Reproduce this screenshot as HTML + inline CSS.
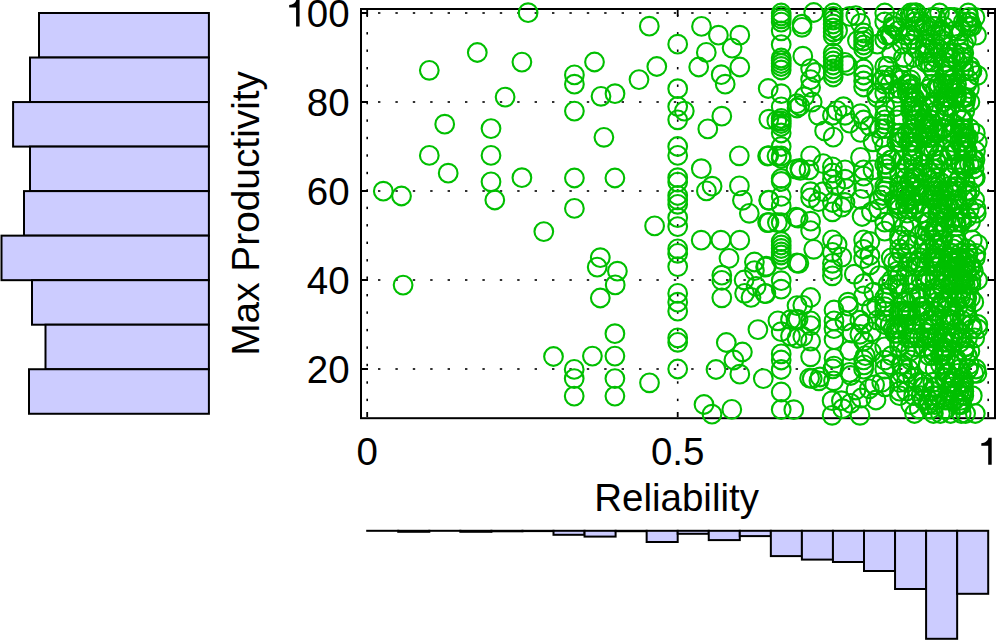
<!DOCTYPE html><html><head><meta charset="utf-8"><style>html,body{margin:0;padding:0;background:#fff;width:996px;height:641px;overflow:hidden}svg{display:block}text{font-family:"Liberation Sans",sans-serif;fill:#000}</style></head><body><svg width="996" height="641" viewBox="0 0 996 641"><rect x="39" y="13.00" width="169.90" height="44.53" fill="#ccccff" stroke="#000" stroke-width="2"/><rect x="30" y="57.53" width="178.90" height="44.53" fill="#ccccff" stroke="#000" stroke-width="2"/><rect x="13.1" y="102.06" width="195.80" height="44.53" fill="#ccccff" stroke="#000" stroke-width="2"/><rect x="30" y="146.59" width="178.90" height="44.53" fill="#ccccff" stroke="#000" stroke-width="2"/><rect x="24" y="191.12" width="184.90" height="44.53" fill="#ccccff" stroke="#000" stroke-width="2"/><rect x="1.5" y="235.65" width="207.40" height="44.53" fill="#ccccff" stroke="#000" stroke-width="2"/><rect x="32" y="280.18" width="176.90" height="44.53" fill="#ccccff" stroke="#000" stroke-width="2"/><rect x="45.5" y="324.71" width="163.40" height="44.53" fill="#ccccff" stroke="#000" stroke-width="2"/><rect x="29" y="369.24" width="179.90" height="44.53" fill="#ccccff" stroke="#000" stroke-width="2"/><rect x="367.20" y="530.8" width="31.05" height="0.01" fill="#ccccff" stroke="#000" stroke-width="2"/><rect x="398.25" y="530.8" width="31.05" height="1.00" fill="#ccccff" stroke="#000" stroke-width="2"/><rect x="429.30" y="530.8" width="31.05" height="0.01" fill="#ccccff" stroke="#000" stroke-width="2"/><rect x="460.35" y="530.8" width="31.05" height="1.00" fill="#ccccff" stroke="#000" stroke-width="2"/><rect x="491.40" y="530.8" width="31.05" height="0.50" fill="#ccccff" stroke="#000" stroke-width="2"/><rect x="522.45" y="530.8" width="31.05" height="0.30" fill="#ccccff" stroke="#000" stroke-width="2"/><rect x="553.50" y="530.8" width="31.05" height="4.00" fill="#ccccff" stroke="#000" stroke-width="2"/><rect x="584.55" y="530.8" width="31.05" height="5.80" fill="#ccccff" stroke="#000" stroke-width="2"/><rect x="615.60" y="530.8" width="31.05" height="0.40" fill="#ccccff" stroke="#000" stroke-width="2"/><rect x="646.65" y="530.8" width="31.05" height="11.20" fill="#ccccff" stroke="#000" stroke-width="2"/><rect x="677.70" y="530.8" width="31.05" height="3.00" fill="#ccccff" stroke="#000" stroke-width="2"/><rect x="708.75" y="530.8" width="31.05" height="9.30" fill="#ccccff" stroke="#000" stroke-width="2"/><rect x="739.80" y="530.8" width="31.05" height="5.30" fill="#ccccff" stroke="#000" stroke-width="2"/><rect x="770.85" y="530.8" width="31.05" height="25.30" fill="#ccccff" stroke="#000" stroke-width="2"/><rect x="801.90" y="530.8" width="31.05" height="28.80" fill="#ccccff" stroke="#000" stroke-width="2"/><rect x="832.95" y="530.8" width="31.05" height="31.20" fill="#ccccff" stroke="#000" stroke-width="2"/><rect x="864.00" y="530.8" width="31.05" height="40.20" fill="#ccccff" stroke="#000" stroke-width="2"/><rect x="895.05" y="530.8" width="31.05" height="58.20" fill="#ccccff" stroke="#000" stroke-width="2"/><rect x="926.10" y="530.8" width="31.05" height="108.00" fill="#ccccff" stroke="#000" stroke-width="2"/><rect x="957.15" y="530.8" width="31.05" height="63.00" fill="#ccccff" stroke="#000" stroke-width="2"/><g fill="#000"><rect x="378.0" y="12.2" width="2.4" height="1.6"/><rect x="395.4" y="12.2" width="2.4" height="1.6"/><rect x="412.8" y="12.2" width="2.4" height="1.6"/><rect x="430.2" y="12.2" width="2.4" height="1.6"/><rect x="447.6" y="12.2" width="2.4" height="1.6"/><rect x="465.0" y="12.2" width="2.4" height="1.6"/><rect x="482.4" y="12.2" width="2.4" height="1.6"/><rect x="499.8" y="12.2" width="2.4" height="1.6"/><rect x="517.2" y="12.2" width="2.4" height="1.6"/><rect x="534.6" y="12.2" width="2.4" height="1.6"/><rect x="552.0" y="12.2" width="2.4" height="1.6"/><rect x="569.4" y="12.2" width="2.4" height="1.6"/><rect x="586.8" y="12.2" width="2.4" height="1.6"/><rect x="604.2" y="12.2" width="2.4" height="1.6"/><rect x="621.6" y="12.2" width="2.4" height="1.6"/><rect x="639.0" y="12.2" width="2.4" height="1.6"/><rect x="656.4" y="12.2" width="2.4" height="1.6"/><rect x="673.8" y="12.2" width="2.4" height="1.6"/><rect x="691.2" y="12.2" width="2.4" height="1.6"/><rect x="708.6" y="12.2" width="2.4" height="1.6"/><rect x="726.0" y="12.2" width="2.4" height="1.6"/><rect x="743.4" y="12.2" width="2.4" height="1.6"/><rect x="760.8" y="12.2" width="2.4" height="1.6"/><rect x="778.2" y="12.2" width="2.4" height="1.6"/><rect x="795.6" y="12.2" width="2.4" height="1.6"/><rect x="813.0" y="12.2" width="2.4" height="1.6"/><rect x="830.4" y="12.2" width="2.4" height="1.6"/><rect x="847.8" y="12.2" width="2.4" height="1.6"/><rect x="865.2" y="12.2" width="2.4" height="1.6"/><rect x="882.6" y="12.2" width="2.4" height="1.6"/><rect x="900.0" y="12.2" width="2.4" height="1.6"/><rect x="917.4" y="12.2" width="2.4" height="1.6"/><rect x="934.8" y="12.2" width="2.4" height="1.6"/><rect x="952.2" y="12.2" width="2.4" height="1.6"/><rect x="969.6" y="12.2" width="2.4" height="1.6"/><rect x="987.0" y="12.2" width="2.4" height="1.6"/><rect x="378.0" y="101.2" width="2.4" height="1.6"/><rect x="395.4" y="101.2" width="2.4" height="1.6"/><rect x="412.8" y="101.2" width="2.4" height="1.6"/><rect x="430.2" y="101.2" width="2.4" height="1.6"/><rect x="447.6" y="101.2" width="2.4" height="1.6"/><rect x="465.0" y="101.2" width="2.4" height="1.6"/><rect x="482.4" y="101.2" width="2.4" height="1.6"/><rect x="499.8" y="101.2" width="2.4" height="1.6"/><rect x="517.2" y="101.2" width="2.4" height="1.6"/><rect x="534.6" y="101.2" width="2.4" height="1.6"/><rect x="552.0" y="101.2" width="2.4" height="1.6"/><rect x="569.4" y="101.2" width="2.4" height="1.6"/><rect x="586.8" y="101.2" width="2.4" height="1.6"/><rect x="604.2" y="101.2" width="2.4" height="1.6"/><rect x="621.6" y="101.2" width="2.4" height="1.6"/><rect x="639.0" y="101.2" width="2.4" height="1.6"/><rect x="656.4" y="101.2" width="2.4" height="1.6"/><rect x="673.8" y="101.2" width="2.4" height="1.6"/><rect x="691.2" y="101.2" width="2.4" height="1.6"/><rect x="708.6" y="101.2" width="2.4" height="1.6"/><rect x="726.0" y="101.2" width="2.4" height="1.6"/><rect x="743.4" y="101.2" width="2.4" height="1.6"/><rect x="760.8" y="101.2" width="2.4" height="1.6"/><rect x="778.2" y="101.2" width="2.4" height="1.6"/><rect x="795.6" y="101.2" width="2.4" height="1.6"/><rect x="813.0" y="101.2" width="2.4" height="1.6"/><rect x="830.4" y="101.2" width="2.4" height="1.6"/><rect x="847.8" y="101.2" width="2.4" height="1.6"/><rect x="865.2" y="101.2" width="2.4" height="1.6"/><rect x="882.6" y="101.2" width="2.4" height="1.6"/><rect x="900.0" y="101.2" width="2.4" height="1.6"/><rect x="917.4" y="101.2" width="2.4" height="1.6"/><rect x="934.8" y="101.2" width="2.4" height="1.6"/><rect x="952.2" y="101.2" width="2.4" height="1.6"/><rect x="969.6" y="101.2" width="2.4" height="1.6"/><rect x="987.0" y="101.2" width="2.4" height="1.6"/><rect x="378.0" y="190.2" width="2.4" height="1.6"/><rect x="395.4" y="190.2" width="2.4" height="1.6"/><rect x="412.8" y="190.2" width="2.4" height="1.6"/><rect x="430.2" y="190.2" width="2.4" height="1.6"/><rect x="447.6" y="190.2" width="2.4" height="1.6"/><rect x="465.0" y="190.2" width="2.4" height="1.6"/><rect x="482.4" y="190.2" width="2.4" height="1.6"/><rect x="499.8" y="190.2" width="2.4" height="1.6"/><rect x="517.2" y="190.2" width="2.4" height="1.6"/><rect x="534.6" y="190.2" width="2.4" height="1.6"/><rect x="552.0" y="190.2" width="2.4" height="1.6"/><rect x="569.4" y="190.2" width="2.4" height="1.6"/><rect x="586.8" y="190.2" width="2.4" height="1.6"/><rect x="604.2" y="190.2" width="2.4" height="1.6"/><rect x="621.6" y="190.2" width="2.4" height="1.6"/><rect x="639.0" y="190.2" width="2.4" height="1.6"/><rect x="656.4" y="190.2" width="2.4" height="1.6"/><rect x="673.8" y="190.2" width="2.4" height="1.6"/><rect x="691.2" y="190.2" width="2.4" height="1.6"/><rect x="708.6" y="190.2" width="2.4" height="1.6"/><rect x="726.0" y="190.2" width="2.4" height="1.6"/><rect x="743.4" y="190.2" width="2.4" height="1.6"/><rect x="760.8" y="190.2" width="2.4" height="1.6"/><rect x="778.2" y="190.2" width="2.4" height="1.6"/><rect x="795.6" y="190.2" width="2.4" height="1.6"/><rect x="813.0" y="190.2" width="2.4" height="1.6"/><rect x="830.4" y="190.2" width="2.4" height="1.6"/><rect x="847.8" y="190.2" width="2.4" height="1.6"/><rect x="865.2" y="190.2" width="2.4" height="1.6"/><rect x="882.6" y="190.2" width="2.4" height="1.6"/><rect x="900.0" y="190.2" width="2.4" height="1.6"/><rect x="917.4" y="190.2" width="2.4" height="1.6"/><rect x="934.8" y="190.2" width="2.4" height="1.6"/><rect x="952.2" y="190.2" width="2.4" height="1.6"/><rect x="969.6" y="190.2" width="2.4" height="1.6"/><rect x="987.0" y="190.2" width="2.4" height="1.6"/><rect x="378.0" y="279.2" width="2.4" height="1.6"/><rect x="395.4" y="279.2" width="2.4" height="1.6"/><rect x="412.8" y="279.2" width="2.4" height="1.6"/><rect x="430.2" y="279.2" width="2.4" height="1.6"/><rect x="447.6" y="279.2" width="2.4" height="1.6"/><rect x="465.0" y="279.2" width="2.4" height="1.6"/><rect x="482.4" y="279.2" width="2.4" height="1.6"/><rect x="499.8" y="279.2" width="2.4" height="1.6"/><rect x="517.2" y="279.2" width="2.4" height="1.6"/><rect x="534.6" y="279.2" width="2.4" height="1.6"/><rect x="552.0" y="279.2" width="2.4" height="1.6"/><rect x="569.4" y="279.2" width="2.4" height="1.6"/><rect x="586.8" y="279.2" width="2.4" height="1.6"/><rect x="604.2" y="279.2" width="2.4" height="1.6"/><rect x="621.6" y="279.2" width="2.4" height="1.6"/><rect x="639.0" y="279.2" width="2.4" height="1.6"/><rect x="656.4" y="279.2" width="2.4" height="1.6"/><rect x="673.8" y="279.2" width="2.4" height="1.6"/><rect x="691.2" y="279.2" width="2.4" height="1.6"/><rect x="708.6" y="279.2" width="2.4" height="1.6"/><rect x="726.0" y="279.2" width="2.4" height="1.6"/><rect x="743.4" y="279.2" width="2.4" height="1.6"/><rect x="760.8" y="279.2" width="2.4" height="1.6"/><rect x="778.2" y="279.2" width="2.4" height="1.6"/><rect x="795.6" y="279.2" width="2.4" height="1.6"/><rect x="813.0" y="279.2" width="2.4" height="1.6"/><rect x="830.4" y="279.2" width="2.4" height="1.6"/><rect x="847.8" y="279.2" width="2.4" height="1.6"/><rect x="865.2" y="279.2" width="2.4" height="1.6"/><rect x="882.6" y="279.2" width="2.4" height="1.6"/><rect x="900.0" y="279.2" width="2.4" height="1.6"/><rect x="917.4" y="279.2" width="2.4" height="1.6"/><rect x="934.8" y="279.2" width="2.4" height="1.6"/><rect x="952.2" y="279.2" width="2.4" height="1.6"/><rect x="969.6" y="279.2" width="2.4" height="1.6"/><rect x="987.0" y="279.2" width="2.4" height="1.6"/><rect x="378.0" y="368.2" width="2.4" height="1.6"/><rect x="395.4" y="368.2" width="2.4" height="1.6"/><rect x="412.8" y="368.2" width="2.4" height="1.6"/><rect x="430.2" y="368.2" width="2.4" height="1.6"/><rect x="447.6" y="368.2" width="2.4" height="1.6"/><rect x="465.0" y="368.2" width="2.4" height="1.6"/><rect x="482.4" y="368.2" width="2.4" height="1.6"/><rect x="499.8" y="368.2" width="2.4" height="1.6"/><rect x="517.2" y="368.2" width="2.4" height="1.6"/><rect x="534.6" y="368.2" width="2.4" height="1.6"/><rect x="552.0" y="368.2" width="2.4" height="1.6"/><rect x="569.4" y="368.2" width="2.4" height="1.6"/><rect x="586.8" y="368.2" width="2.4" height="1.6"/><rect x="604.2" y="368.2" width="2.4" height="1.6"/><rect x="621.6" y="368.2" width="2.4" height="1.6"/><rect x="639.0" y="368.2" width="2.4" height="1.6"/><rect x="656.4" y="368.2" width="2.4" height="1.6"/><rect x="673.8" y="368.2" width="2.4" height="1.6"/><rect x="691.2" y="368.2" width="2.4" height="1.6"/><rect x="708.6" y="368.2" width="2.4" height="1.6"/><rect x="726.0" y="368.2" width="2.4" height="1.6"/><rect x="743.4" y="368.2" width="2.4" height="1.6"/><rect x="760.8" y="368.2" width="2.4" height="1.6"/><rect x="778.2" y="368.2" width="2.4" height="1.6"/><rect x="795.6" y="368.2" width="2.4" height="1.6"/><rect x="813.0" y="368.2" width="2.4" height="1.6"/><rect x="830.4" y="368.2" width="2.4" height="1.6"/><rect x="847.8" y="368.2" width="2.4" height="1.6"/><rect x="865.2" y="368.2" width="2.4" height="1.6"/><rect x="882.6" y="368.2" width="2.4" height="1.6"/><rect x="900.0" y="368.2" width="2.4" height="1.6"/><rect x="917.4" y="368.2" width="2.4" height="1.6"/><rect x="934.8" y="368.2" width="2.4" height="1.6"/><rect x="952.2" y="368.2" width="2.4" height="1.6"/><rect x="969.6" y="368.2" width="2.4" height="1.6"/><rect x="987.0" y="368.2" width="2.4" height="1.6"/><rect x="366.4" y="398.7" width="1.6" height="2.4"/><rect x="366.4" y="381.3" width="1.6" height="2.4"/><rect x="366.4" y="363.8" width="1.6" height="2.4"/><rect x="366.4" y="346.4" width="1.6" height="2.4"/><rect x="366.4" y="328.9" width="1.6" height="2.4"/><rect x="366.4" y="311.4" width="1.6" height="2.4"/><rect x="366.4" y="294.0" width="1.6" height="2.4"/><rect x="366.4" y="276.5" width="1.6" height="2.4"/><rect x="366.4" y="259.1" width="1.6" height="2.4"/><rect x="366.4" y="241.6" width="1.6" height="2.4"/><rect x="366.4" y="224.1" width="1.6" height="2.4"/><rect x="366.4" y="206.7" width="1.6" height="2.4"/><rect x="366.4" y="189.2" width="1.6" height="2.4"/><rect x="366.4" y="171.8" width="1.6" height="2.4"/><rect x="366.4" y="154.3" width="1.6" height="2.4"/><rect x="366.4" y="136.8" width="1.6" height="2.4"/><rect x="366.4" y="119.4" width="1.6" height="2.4"/><rect x="366.4" y="101.9" width="1.6" height="2.4"/><rect x="366.4" y="84.5" width="1.6" height="2.4"/><rect x="366.4" y="67.0" width="1.6" height="2.4"/><rect x="366.4" y="49.5" width="1.6" height="2.4"/><rect x="366.4" y="32.1" width="1.6" height="2.4"/><rect x="366.4" y="14.6" width="1.6" height="2.4"/><rect x="676.9" y="398.7" width="1.6" height="2.4"/><rect x="676.9" y="381.3" width="1.6" height="2.4"/><rect x="676.9" y="363.8" width="1.6" height="2.4"/><rect x="676.9" y="346.4" width="1.6" height="2.4"/><rect x="676.9" y="328.9" width="1.6" height="2.4"/><rect x="676.9" y="311.4" width="1.6" height="2.4"/><rect x="676.9" y="294.0" width="1.6" height="2.4"/><rect x="676.9" y="276.5" width="1.6" height="2.4"/><rect x="676.9" y="259.1" width="1.6" height="2.4"/><rect x="676.9" y="241.6" width="1.6" height="2.4"/><rect x="676.9" y="224.1" width="1.6" height="2.4"/><rect x="676.9" y="206.7" width="1.6" height="2.4"/><rect x="676.9" y="189.2" width="1.6" height="2.4"/><rect x="676.9" y="171.8" width="1.6" height="2.4"/><rect x="676.9" y="154.3" width="1.6" height="2.4"/><rect x="676.9" y="136.8" width="1.6" height="2.4"/><rect x="676.9" y="119.4" width="1.6" height="2.4"/><rect x="676.9" y="101.9" width="1.6" height="2.4"/><rect x="676.9" y="84.5" width="1.6" height="2.4"/><rect x="676.9" y="67.0" width="1.6" height="2.4"/><rect x="676.9" y="49.5" width="1.6" height="2.4"/><rect x="676.9" y="32.1" width="1.6" height="2.4"/><rect x="676.9" y="14.6" width="1.6" height="2.4"/><rect x="987.4" y="398.7" width="1.6" height="2.4"/><rect x="987.4" y="381.3" width="1.6" height="2.4"/><rect x="987.4" y="363.8" width="1.6" height="2.4"/><rect x="987.4" y="346.4" width="1.6" height="2.4"/><rect x="987.4" y="328.9" width="1.6" height="2.4"/><rect x="987.4" y="311.4" width="1.6" height="2.4"/><rect x="987.4" y="294.0" width="1.6" height="2.4"/><rect x="987.4" y="276.5" width="1.6" height="2.4"/><rect x="987.4" y="259.1" width="1.6" height="2.4"/><rect x="987.4" y="241.6" width="1.6" height="2.4"/><rect x="987.4" y="224.1" width="1.6" height="2.4"/><rect x="987.4" y="206.7" width="1.6" height="2.4"/><rect x="987.4" y="189.2" width="1.6" height="2.4"/><rect x="987.4" y="171.8" width="1.6" height="2.4"/><rect x="987.4" y="154.3" width="1.6" height="2.4"/><rect x="987.4" y="136.8" width="1.6" height="2.4"/><rect x="987.4" y="119.4" width="1.6" height="2.4"/><rect x="987.4" y="101.9" width="1.6" height="2.4"/><rect x="987.4" y="84.5" width="1.6" height="2.4"/><rect x="987.4" y="67.0" width="1.6" height="2.4"/><rect x="987.4" y="49.5" width="1.6" height="2.4"/><rect x="987.4" y="32.1" width="1.6" height="2.4"/><rect x="987.4" y="14.6" width="1.6" height="2.4"/></g><path d="M362 13H368M994 13H988M362 102H368M994 102H988M362 191H368M994 191H988M362 280H368M994 280H988M362 369H368M994 369H988M367.2 417V412M367.2 10V16M677.7 417V412M677.7 10V16M988.2 417V412M988.2 10V16" stroke="#000" stroke-width="1.8" fill="none"/><rect x="361" y="9" width="634" height="409.2" fill="none" stroke="#000" stroke-width="2"/><g fill="none" stroke="#00bf00" stroke-width="2.1"><circle cx="528.1" cy="12.7" r="9.35"/><circle cx="477.3" cy="52.5" r="9.35"/><circle cx="521.9" cy="62.1" r="9.35"/><circle cx="429.3" cy="70.3" r="9.35"/><circle cx="505.1" cy="97.1" r="9.35"/><circle cx="444.7" cy="124.2" r="9.35"/><circle cx="491.0" cy="128.6" r="9.35"/><circle cx="429.3" cy="155.4" r="9.35"/><circle cx="491.0" cy="155.4" r="9.35"/><circle cx="448.2" cy="173.2" r="9.35"/><circle cx="491.0" cy="181.8" r="9.35"/><circle cx="521.9" cy="177.7" r="9.35"/><circle cx="383.3" cy="191.2" r="9.35"/><circle cx="401.5" cy="196.0" r="9.35"/><circle cx="494.8" cy="200.0" r="9.35"/><circle cx="543.8" cy="231.6" r="9.35"/><circle cx="403.1" cy="285.1" r="9.35"/><circle cx="553.5" cy="356.5" r="9.35"/><circle cx="649.3" cy="26.2" r="9.35"/><circle cx="594.5" cy="62.0" r="9.35"/><circle cx="656.8" cy="66.5" r="9.35"/><circle cx="574.4" cy="74.9" r="9.35"/><circle cx="574.4" cy="84.2" r="9.35"/><circle cx="639.0" cy="79.6" r="9.35"/><circle cx="615.0" cy="93.7" r="9.35"/><circle cx="601.0" cy="96.3" r="9.35"/><circle cx="574.4" cy="111.1" r="9.35"/><circle cx="684.3" cy="111.1" r="9.35"/><circle cx="603.9" cy="137.3" r="9.35"/><circle cx="574.4" cy="178.0" r="9.35"/><circle cx="614.9" cy="178.0" r="9.35"/><circle cx="574.4" cy="208.4" r="9.35"/><circle cx="654.6" cy="225.9" r="9.35"/><circle cx="600.3" cy="257.7" r="9.35"/><circle cx="597.2" cy="267.1" r="9.35"/><circle cx="617.4" cy="271.2" r="9.35"/><circle cx="615.2" cy="284.9" r="9.35"/><circle cx="600.3" cy="298.0" r="9.35"/><circle cx="614.9" cy="333.7" r="9.35"/><circle cx="592.4" cy="356.1" r="9.35"/><circle cx="614.9" cy="356.1" r="9.35"/><circle cx="574.2" cy="369.4" r="9.35"/><circle cx="574.2" cy="378.6" r="9.35"/><circle cx="574.2" cy="396.1" r="9.35"/><circle cx="614.9" cy="378.6" r="9.35"/><circle cx="614.9" cy="396.1" r="9.35"/><circle cx="649.5" cy="382.8" r="9.35"/><circle cx="677.7" cy="44.2" r="9.35"/><circle cx="677.7" cy="88.7" r="9.35"/><circle cx="677.7" cy="106.5" r="9.35"/><circle cx="677.7" cy="119.8" r="9.35"/><circle cx="677.7" cy="146.5" r="9.35"/><circle cx="677.7" cy="155.4" r="9.35"/><circle cx="677.7" cy="177.7" r="9.35"/><circle cx="677.7" cy="182.1" r="9.35"/><circle cx="677.7" cy="195.5" r="9.35"/><circle cx="677.7" cy="199.9" r="9.35"/><circle cx="677.7" cy="204.3" r="9.35"/><circle cx="677.7" cy="217.7" r="9.35"/><circle cx="677.7" cy="226.6" r="9.35"/><circle cx="677.7" cy="248.9" r="9.35"/><circle cx="677.7" cy="253.3" r="9.35"/><circle cx="677.7" cy="266.6" r="9.35"/><circle cx="677.7" cy="293.4" r="9.35"/><circle cx="677.7" cy="302.2" r="9.35"/><circle cx="677.7" cy="311.2" r="9.35"/><circle cx="677.7" cy="337.9" r="9.35"/><circle cx="677.7" cy="342.3" r="9.35"/><circle cx="677.7" cy="369.0" r="9.35"/><circle cx="701.5" cy="26.4" r="9.35"/><circle cx="718.4" cy="35.2" r="9.35"/><circle cx="739.8" cy="35.2" r="9.35"/><circle cx="706.3" cy="52.4" r="9.35"/><circle cx="732.1" cy="48.1" r="9.35"/><circle cx="698.7" cy="67.0" r="9.35"/><circle cx="739.8" cy="67.0" r="9.35"/><circle cx="721.2" cy="74.7" r="9.35"/><circle cx="725.2" cy="84.2" r="9.35"/><circle cx="768.2" cy="88.5" r="9.35"/><circle cx="707.8" cy="128.9" r="9.35"/><circle cx="721.8" cy="116.2" r="9.35"/><circle cx="739.3" cy="155.8" r="9.35"/><circle cx="701.3" cy="168.7" r="9.35"/><circle cx="712.1" cy="186.2" r="9.35"/><circle cx="706.4" cy="190.9" r="9.35"/><circle cx="739.4" cy="185.9" r="9.35"/><circle cx="742.4" cy="200.3" r="9.35"/><circle cx="768.8" cy="155.6" r="9.35"/><circle cx="768.8" cy="119.2" r="9.35"/><circle cx="769.0" cy="200.3" r="9.35"/><circle cx="749.3" cy="213.3" r="9.35"/><circle cx="769.0" cy="222.5" r="9.35"/><circle cx="701.2" cy="240.2" r="9.35"/><circle cx="720.9" cy="240.2" r="9.35"/><circle cx="739.8" cy="240.2" r="9.35"/><circle cx="729.0" cy="258.4" r="9.35"/><circle cx="754.4" cy="262.0" r="9.35"/><circle cx="765.6" cy="267.1" r="9.35"/><circle cx="754.4" cy="270.6" r="9.35"/><circle cx="721.8" cy="275.2" r="9.35"/><circle cx="721.8" cy="280.4" r="9.35"/><circle cx="744.1" cy="280.0" r="9.35"/><circle cx="756.1" cy="286.4" r="9.35"/><circle cx="744.6" cy="293.3" r="9.35"/><circle cx="751.0" cy="297.4" r="9.35"/><circle cx="765.0" cy="293.5" r="9.35"/><circle cx="721.8" cy="297.8" r="9.35"/><circle cx="757.9" cy="329.6" r="9.35"/><circle cx="726.3" cy="342.5" r="9.35"/><circle cx="742.4" cy="352.0" r="9.35"/><circle cx="733.9" cy="360.0" r="9.35"/><circle cx="716.0" cy="369.5" r="9.35"/><circle cx="739.8" cy="374.2" r="9.35"/><circle cx="763.3" cy="378.6" r="9.35"/><circle cx="704.0" cy="404.5" r="9.35"/><circle cx="712.0" cy="414.2" r="9.35"/><circle cx="731.8" cy="409.4" r="9.35"/><circle cx="781.2" cy="13.0" r="9.35"/><circle cx="781.2" cy="16.0" r="9.35"/><circle cx="781.2" cy="18.8" r="9.35"/><circle cx="781.2" cy="22.1" r="9.35"/><circle cx="781.2" cy="30.8" r="9.35"/><circle cx="781.2" cy="44.6" r="9.35"/><circle cx="781.2" cy="58.0" r="9.35"/><circle cx="781.2" cy="60.5" r="9.35"/><circle cx="781.2" cy="63.5" r="9.35"/><circle cx="781.2" cy="66.5" r="9.35"/><circle cx="781.2" cy="70.0" r="9.35"/><circle cx="781.2" cy="93.7" r="9.35"/><circle cx="781.2" cy="106.8" r="9.35"/><circle cx="781.2" cy="118.5" r="9.35"/><circle cx="781.2" cy="121.0" r="9.35"/><circle cx="781.2" cy="123.5" r="9.35"/><circle cx="781.2" cy="126.5" r="9.35"/><circle cx="781.2" cy="133.0" r="9.35"/><circle cx="781.2" cy="146.5" r="9.35"/><circle cx="781.2" cy="156.0" r="9.35"/><circle cx="781.2" cy="158.5" r="9.35"/><circle cx="781.2" cy="178.5" r="9.35"/><circle cx="781.2" cy="181.5" r="9.35"/><circle cx="781.2" cy="196.4" r="9.35"/><circle cx="781.2" cy="205.9" r="9.35"/><circle cx="781.2" cy="222.6" r="9.35"/><circle cx="781.2" cy="241.5" r="9.35"/><circle cx="781.2" cy="245.0" r="9.35"/><circle cx="781.2" cy="248.5" r="9.35"/><circle cx="781.2" cy="252.0" r="9.35"/><circle cx="781.2" cy="255.0" r="9.35"/><circle cx="781.2" cy="259.5" r="9.35"/><circle cx="781.2" cy="280.7" r="9.35"/><circle cx="781.2" cy="289.2" r="9.35"/><circle cx="781.2" cy="331.7" r="9.35"/><circle cx="781.2" cy="353.9" r="9.35"/><circle cx="781.2" cy="360.0" r="9.35"/><circle cx="781.2" cy="369.5" r="9.35"/><circle cx="781.2" cy="392.0" r="9.35"/><circle cx="781.2" cy="409.5" r="9.35"/><circle cx="776.8" cy="120.7" r="9.35"/><circle cx="767.6" cy="156.0" r="9.35"/><circle cx="777.0" cy="156.0" r="9.35"/><circle cx="768.7" cy="200.2" r="9.35"/><circle cx="767.6" cy="222.6" r="9.35"/><circle cx="777.4" cy="222.6" r="9.35"/><circle cx="766.5" cy="266.2" r="9.35"/><circle cx="765.9" cy="293.6" r="9.35"/><circle cx="777.9" cy="320.8" r="9.35"/><circle cx="790.5" cy="319.7" r="9.35"/><circle cx="790.5" cy="336.1" r="9.35"/><circle cx="796.0" cy="319.7" r="9.35"/><circle cx="797.0" cy="338.3" r="9.35"/><circle cx="793.8" cy="409.7" r="9.35"/><circle cx="797.0" cy="103.7" r="9.35"/><circle cx="797.0" cy="108.0" r="9.35"/><circle cx="796.0" cy="169.2" r="9.35"/><circle cx="800.3" cy="170.3" r="9.35"/><circle cx="796.0" cy="217.2" r="9.35"/><circle cx="797.0" cy="263.0" r="9.35"/><circle cx="797.0" cy="305.6" r="9.35"/><circle cx="802.0" cy="24.2" r="9.35"/><circle cx="802.0" cy="27.3" r="9.35"/><circle cx="813.7" cy="12.5" r="9.35"/><circle cx="802.8" cy="56.2" r="9.35"/><circle cx="810.6" cy="68.6" r="9.35"/><circle cx="815.3" cy="72.5" r="9.35"/><circle cx="810.6" cy="79.6" r="9.35"/><circle cx="810.6" cy="87.4" r="9.35"/><circle cx="804.4" cy="96.7" r="9.35"/><circle cx="833.2" cy="13.0" r="9.35"/><circle cx="833.2" cy="16.5" r="9.35"/><circle cx="833.2" cy="20.0" r="9.35"/><circle cx="833.2" cy="24.0" r="9.35"/><circle cx="833.2" cy="28.0" r="9.35"/><circle cx="833.2" cy="32.0" r="9.35"/><circle cx="833.2" cy="36.0" r="9.35"/><circle cx="833.2" cy="53.0" r="9.35"/><circle cx="833.2" cy="57.0" r="9.35"/><circle cx="833.2" cy="61.0" r="9.35"/><circle cx="833.2" cy="65.0" r="9.35"/><circle cx="833.2" cy="69.0" r="9.35"/><circle cx="833.2" cy="73.0" r="9.35"/><circle cx="833.2" cy="77.0" r="9.35"/><circle cx="837.6" cy="30.6" r="9.35"/><circle cx="844.9" cy="62.4" r="9.35"/><circle cx="849.6" cy="16.4" r="9.35"/><circle cx="855.8" cy="15.6" r="9.35"/><circle cx="860.5" cy="23.4" r="9.35"/><circle cx="863.6" cy="33.0" r="9.35"/><circle cx="863.6" cy="37.0" r="9.35"/><circle cx="863.6" cy="41.0" r="9.35"/><circle cx="863.6" cy="45.0" r="9.35"/><circle cx="863.6" cy="49.0" r="9.35"/><circle cx="863.6" cy="69.0" r="9.35"/><circle cx="863.6" cy="75.0" r="9.35"/><circle cx="863.6" cy="81.0" r="9.35"/><circle cx="863.6" cy="87.0" r="9.35"/><circle cx="857.4" cy="40.6" r="9.35"/><circle cx="847.5" cy="65.5" r="9.35"/><circle cx="799.7" cy="105.9" r="9.35"/><circle cx="812.2" cy="102.0" r="9.35"/><circle cx="818.4" cy="115.3" r="9.35"/><circle cx="832.4" cy="115.3" r="9.35"/><circle cx="843.4" cy="106.7" r="9.35"/><circle cx="845.0" cy="115.3" r="9.35"/><circle cx="837.1" cy="110.6" r="9.35"/><circle cx="824.6" cy="130.9" r="9.35"/><circle cx="833.2" cy="137.1" r="9.35"/><circle cx="849.6" cy="123.1" r="9.35"/><circle cx="860.5" cy="113.7" r="9.35"/><circle cx="860.5" cy="132.4" r="9.35"/><circle cx="863.6" cy="120.0" r="9.35"/><circle cx="869.9" cy="126.2" r="9.35"/><circle cx="810.6" cy="155.8" r="9.35"/><circle cx="799.7" cy="168.3" r="9.35"/><circle cx="809.0" cy="169.9" r="9.35"/><circle cx="823.1" cy="163.6" r="9.35"/><circle cx="832.4" cy="166.8" r="9.35"/><circle cx="832.4" cy="173.0" r="9.35"/><circle cx="832.4" cy="179.2" r="9.35"/><circle cx="845.0" cy="169.9" r="9.35"/><circle cx="845.0" cy="179.2" r="9.35"/><circle cx="860.5" cy="157.4" r="9.35"/><circle cx="863.6" cy="169.9" r="9.35"/><circle cx="863.6" cy="176.1" r="9.35"/><circle cx="873.0" cy="169.9" r="9.35"/><circle cx="810.6" cy="191.7" r="9.35"/><circle cx="823.1" cy="191.7" r="9.35"/><circle cx="835.6" cy="185.5" r="9.35"/><circle cx="846.5" cy="188.6" r="9.35"/><circle cx="863.6" cy="188.6" r="9.35"/><circle cx="873.0" cy="141.8" r="9.35"/><circle cx="810.6" cy="197.8" r="9.35"/><circle cx="818.4" cy="201.7" r="9.35"/><circle cx="832.4" cy="202.5" r="9.35"/><circle cx="832.4" cy="211.8" r="9.35"/><circle cx="845.0" cy="202.5" r="9.35"/><circle cx="841.8" cy="207.2" r="9.35"/><circle cx="860.5" cy="199.4" r="9.35"/><circle cx="862.1" cy="216.5" r="9.35"/><circle cx="871.4" cy="211.8" r="9.35"/><circle cx="798.1" cy="218.1" r="9.35"/><circle cx="810.6" cy="221.2" r="9.35"/><circle cx="810.6" cy="230.6" r="9.35"/><circle cx="813.7" cy="249.3" r="9.35"/><circle cx="798.9" cy="263.3" r="9.35"/><circle cx="832.4" cy="239.9" r="9.35"/><circle cx="837.1" cy="244.6" r="9.35"/><circle cx="832.4" cy="252.4" r="9.35"/><circle cx="841.8" cy="257.1" r="9.35"/><circle cx="832.4" cy="263.3" r="9.35"/><circle cx="832.4" cy="269.6" r="9.35"/><circle cx="832.4" cy="275.8" r="9.35"/><circle cx="854.3" cy="274.2" r="9.35"/><circle cx="863.6" cy="239.9" r="9.35"/><circle cx="863.6" cy="249.3" r="9.35"/><circle cx="863.6" cy="258.6" r="9.35"/><circle cx="869.9" cy="241.5" r="9.35"/><circle cx="869.9" cy="255.5" r="9.35"/><circle cx="869.9" cy="264.9" r="9.35"/><circle cx="863.6" cy="283.6" r="9.35"/><circle cx="810.6" cy="297.5" r="9.35"/><circle cx="802.8" cy="305.3" r="9.35"/><circle cx="798.1" cy="319.3" r="9.35"/><circle cx="810.6" cy="320.9" r="9.35"/><circle cx="810.6" cy="325.6" r="9.35"/><circle cx="802.8" cy="336.5" r="9.35"/><circle cx="810.6" cy="341.2" r="9.35"/><circle cx="810.6" cy="356.8" r="9.35"/><circle cx="834.0" cy="310.0" r="9.35"/><circle cx="834.0" cy="320.9" r="9.35"/><circle cx="834.0" cy="328.7" r="9.35"/><circle cx="834.0" cy="339.6" r="9.35"/><circle cx="834.0" cy="358.3" r="9.35"/><circle cx="834.0" cy="366.1" r="9.35"/><circle cx="844.9" cy="320.9" r="9.35"/><circle cx="848.0" cy="302.2" r="9.35"/><circle cx="849.6" cy="350.5" r="9.35"/><circle cx="849.6" cy="372.4" r="9.35"/><circle cx="863.6" cy="295.9" r="9.35"/><circle cx="863.6" cy="324.0" r="9.35"/><circle cx="863.6" cy="341.2" r="9.35"/><circle cx="863.6" cy="359.9" r="9.35"/><circle cx="863.6" cy="369.2" r="9.35"/><circle cx="871.4" cy="308.4" r="9.35"/><circle cx="871.4" cy="331.8" r="9.35"/><circle cx="871.4" cy="352.1" r="9.35"/><circle cx="812.2" cy="378.6" r="9.35"/><circle cx="820.0" cy="377.0" r="9.35"/><circle cx="832.8" cy="368.9" r="9.35"/><circle cx="809.6" cy="378.2" r="9.35"/><circle cx="818.9" cy="380.8" r="9.35"/><circle cx="833.5" cy="380.8" r="9.35"/><circle cx="850.7" cy="375.5" r="9.35"/><circle cx="864.0" cy="364.9" r="9.35"/><circle cx="865.3" cy="355.6" r="9.35"/><circle cx="874.6" cy="384.8" r="9.35"/><circle cx="869.3" cy="388.8" r="9.35"/><circle cx="832.1" cy="400.7" r="9.35"/><circle cx="841.4" cy="400.7" r="9.35"/><circle cx="850.7" cy="403.4" r="9.35"/><circle cx="861.3" cy="398.0" r="9.35"/><circle cx="832.1" cy="415.3" r="9.35"/><circle cx="860.0" cy="415.3" r="9.35"/><circle cx="842.7" cy="408.7" r="9.35"/><circle cx="848.5" cy="306.2" r="9.35"/><circle cx="859.8" cy="320.2" r="9.35"/><circle cx="859.8" cy="334.3" r="9.35"/><circle cx="876.6" cy="306.2" r="9.35"/><circle cx="873.8" cy="292.1" r="9.35"/><circle cx="856.0" cy="390.0" r="9.35"/><circle cx="876.0" cy="400.0" r="9.35"/><circle cx="852.0" cy="333.0" r="9.35"/><circle cx="884.7" cy="386.8" r="9.35"/><circle cx="884.7" cy="369.0" r="9.35"/><circle cx="884.7" cy="360.1" r="9.35"/><circle cx="884.7" cy="346.8" r="9.35"/><circle cx="884.7" cy="324.5" r="9.35"/><circle cx="884.7" cy="320.1" r="9.35"/><circle cx="884.7" cy="311.2" r="9.35"/><circle cx="884.7" cy="306.7" r="9.35"/><circle cx="884.7" cy="302.2" r="9.35"/><circle cx="884.7" cy="297.8" r="9.35"/><circle cx="884.7" cy="231.1" r="9.35"/><circle cx="884.7" cy="222.2" r="9.35"/><circle cx="884.7" cy="191.0" r="9.35"/><circle cx="884.7" cy="186.6" r="9.35"/><circle cx="884.7" cy="164.3" r="9.35"/><circle cx="884.7" cy="146.5" r="9.35"/><circle cx="884.7" cy="128.7" r="9.35"/><circle cx="884.7" cy="124.2" r="9.35"/><circle cx="884.7" cy="119.8" r="9.35"/><circle cx="884.7" cy="115.4" r="9.35"/><circle cx="884.7" cy="106.5" r="9.35"/><circle cx="884.7" cy="93.1" r="9.35"/><circle cx="884.7" cy="84.2" r="9.35"/><circle cx="884.7" cy="75.3" r="9.35"/><circle cx="884.7" cy="66.4" r="9.35"/><circle cx="884.7" cy="39.7" r="9.35"/><circle cx="884.7" cy="21.9" r="9.35"/><circle cx="884.7" cy="13.0" r="9.35"/><circle cx="899.5" cy="395.7" r="9.35"/><circle cx="899.5" cy="391.2" r="9.35"/><circle cx="899.5" cy="382.4" r="9.35"/><circle cx="899.5" cy="346.8" r="9.35"/><circle cx="899.5" cy="342.3" r="9.35"/><circle cx="899.5" cy="328.9" r="9.35"/><circle cx="899.5" cy="324.5" r="9.35"/><circle cx="899.5" cy="311.2" r="9.35"/><circle cx="899.5" cy="288.9" r="9.35"/><circle cx="899.5" cy="284.4" r="9.35"/><circle cx="899.5" cy="275.6" r="9.35"/><circle cx="899.5" cy="248.9" r="9.35"/><circle cx="899.5" cy="240.0" r="9.35"/><circle cx="899.5" cy="235.5" r="9.35"/><circle cx="899.5" cy="208.8" r="9.35"/><circle cx="899.5" cy="204.3" r="9.35"/><circle cx="899.5" cy="191.0" r="9.35"/><circle cx="899.5" cy="186.6" r="9.35"/><circle cx="899.5" cy="173.2" r="9.35"/><circle cx="899.5" cy="142.1" r="9.35"/><circle cx="899.5" cy="137.6" r="9.35"/><circle cx="899.5" cy="133.2" r="9.35"/><circle cx="899.5" cy="115.4" r="9.35"/><circle cx="899.5" cy="88.7" r="9.35"/><circle cx="910.6" cy="404.6" r="9.35"/><circle cx="910.6" cy="360.1" r="9.35"/><circle cx="910.6" cy="351.2" r="9.35"/><circle cx="910.6" cy="337.9" r="9.35"/><circle cx="910.6" cy="315.6" r="9.35"/><circle cx="910.6" cy="311.2" r="9.35"/><circle cx="910.6" cy="297.8" r="9.35"/><circle cx="910.6" cy="293.4" r="9.35"/><circle cx="910.6" cy="262.2" r="9.35"/><circle cx="910.6" cy="226.6" r="9.35"/><circle cx="910.6" cy="199.9" r="9.35"/><circle cx="910.6" cy="195.5" r="9.35"/><circle cx="910.6" cy="186.6" r="9.35"/><circle cx="910.6" cy="182.1" r="9.35"/><circle cx="910.6" cy="146.5" r="9.35"/><circle cx="910.6" cy="142.1" r="9.35"/><circle cx="910.6" cy="133.2" r="9.35"/><circle cx="910.6" cy="110.9" r="9.35"/><circle cx="910.6" cy="106.5" r="9.35"/><circle cx="910.6" cy="97.5" r="9.35"/><circle cx="910.6" cy="88.7" r="9.35"/><circle cx="910.6" cy="84.2" r="9.35"/><circle cx="910.6" cy="79.8" r="9.35"/><circle cx="910.6" cy="44.2" r="9.35"/><circle cx="910.6" cy="35.2" r="9.35"/><circle cx="910.6" cy="30.8" r="9.35"/><circle cx="910.6" cy="17.4" r="9.35"/><circle cx="910.6" cy="13.0" r="9.35"/><circle cx="881.7" cy="137.6" r="9.35"/><circle cx="887.1" cy="168.8" r="9.35"/><circle cx="891.2" cy="257.8" r="9.35"/><circle cx="891.6" cy="53.1" r="9.35"/><circle cx="877.3" cy="44.2" r="9.35"/><circle cx="890.1" cy="364.6" r="9.35"/><circle cx="886.6" cy="164.3" r="9.35"/><circle cx="893.5" cy="262.2" r="9.35"/><circle cx="888.0" cy="66.4" r="9.35"/><circle cx="891.6" cy="35.2" r="9.35"/><circle cx="886.6" cy="155.4" r="9.35"/><circle cx="879.5" cy="128.7" r="9.35"/><circle cx="891.8" cy="159.8" r="9.35"/><circle cx="890.1" cy="324.5" r="9.35"/><circle cx="893.5" cy="21.9" r="9.35"/><circle cx="894.1" cy="199.9" r="9.35"/><circle cx="891.6" cy="280.0" r="9.35"/><circle cx="893.5" cy="75.3" r="9.35"/><circle cx="881.7" cy="382.4" r="9.35"/><circle cx="882.9" cy="195.5" r="9.35"/><circle cx="891.2" cy="222.2" r="9.35"/><circle cx="876.7" cy="93.1" r="9.35"/><circle cx="877.3" cy="97.5" r="9.35"/><circle cx="879.3" cy="275.6" r="9.35"/><circle cx="891.6" cy="355.7" r="9.35"/><circle cx="878.6" cy="208.8" r="9.35"/><circle cx="890.1" cy="84.2" r="9.35"/><circle cx="890.1" cy="35.2" r="9.35"/><circle cx="886.8" cy="35.2" r="9.35"/><circle cx="877.3" cy="320.1" r="9.35"/><circle cx="887.5" cy="293.4" r="9.35"/><circle cx="890.8" cy="159.8" r="9.35"/><circle cx="887.5" cy="79.8" r="9.35"/><circle cx="888.0" cy="284.4" r="9.35"/><circle cx="882.2" cy="79.8" r="9.35"/><circle cx="893.5" cy="328.9" r="9.35"/><circle cx="892.7" cy="26.4" r="9.35"/><circle cx="887.5" cy="186.6" r="9.35"/><circle cx="879.5" cy="199.9" r="9.35"/><circle cx="887.1" cy="173.2" r="9.35"/><circle cx="895.0" cy="26.4" r="9.35"/><circle cx="901.3" cy="253.3" r="9.35"/><circle cx="903.0" cy="191.0" r="9.35"/><circle cx="901.0" cy="142.1" r="9.35"/><circle cx="895.0" cy="199.9" r="9.35"/><circle cx="897.9" cy="30.8" r="9.35"/><circle cx="904.0" cy="302.2" r="9.35"/><circle cx="901.0" cy="364.6" r="9.35"/><circle cx="897.9" cy="93.1" r="9.35"/><circle cx="904.0" cy="226.6" r="9.35"/><circle cx="897.3" cy="333.4" r="9.35"/><circle cx="902.0" cy="44.2" r="9.35"/><circle cx="895.7" cy="106.5" r="9.35"/><circle cx="895.0" cy="333.4" r="9.35"/><circle cx="896.9" cy="142.1" r="9.35"/><circle cx="897.3" cy="271.1" r="9.35"/><circle cx="902.0" cy="373.4" r="9.35"/><circle cx="902.5" cy="364.6" r="9.35"/><circle cx="901.3" cy="311.2" r="9.35"/><circle cx="896.2" cy="204.3" r="9.35"/><circle cx="897.9" cy="262.2" r="9.35"/><circle cx="897.9" cy="204.3" r="9.35"/><circle cx="896.2" cy="328.9" r="9.35"/><circle cx="902.0" cy="159.8" r="9.35"/><circle cx="901.3" cy="79.8" r="9.35"/><circle cx="901.5" cy="75.3" r="9.35"/><circle cx="896.9" cy="119.8" r="9.35"/><circle cx="903.5" cy="57.5" r="9.35"/><circle cx="897.3" cy="284.4" r="9.35"/><circle cx="904.0" cy="324.5" r="9.35"/><circle cx="925.0" cy="62.0" r="9.35"/><circle cx="907.2" cy="315.6" r="9.35"/><circle cx="920.5" cy="306.7" r="9.35"/><circle cx="906.5" cy="84.2" r="9.35"/><circle cx="913.7" cy="102.0" r="9.35"/><circle cx="907.2" cy="253.3" r="9.35"/><circle cx="919.2" cy="409.1" r="9.35"/><circle cx="908.6" cy="142.1" r="9.35"/><circle cx="924.0" cy="26.4" r="9.35"/><circle cx="907.2" cy="213.2" r="9.35"/><circle cx="921.1" cy="213.2" r="9.35"/><circle cx="919.2" cy="337.9" r="9.35"/><circle cx="906.2" cy="373.4" r="9.35"/><circle cx="905.4" cy="195.5" r="9.35"/><circle cx="915.8" cy="186.6" r="9.35"/><circle cx="907.7" cy="337.9" r="9.35"/><circle cx="908.6" cy="84.2" r="9.35"/><circle cx="925.0" cy="44.2" r="9.35"/><circle cx="906.5" cy="391.2" r="9.35"/><circle cx="924.5" cy="231.1" r="9.35"/><circle cx="921.1" cy="280.0" r="9.35"/><circle cx="914.5" cy="208.8" r="9.35"/><circle cx="914.3" cy="177.7" r="9.35"/><circle cx="904.6" cy="137.6" r="9.35"/><circle cx="922.8" cy="337.9" r="9.35"/><circle cx="914.5" cy="119.8" r="9.35"/><circle cx="913.7" cy="333.4" r="9.35"/><circle cx="907.7" cy="208.8" r="9.35"/><circle cx="904.6" cy="62.0" r="9.35"/><circle cx="921.7" cy="133.2" r="9.35"/><circle cx="922.8" cy="164.3" r="9.35"/><circle cx="913.7" cy="177.7" r="9.35"/><circle cx="915.1" cy="17.4" r="9.35"/><circle cx="921.7" cy="306.7" r="9.35"/><circle cx="924.0" cy="119.8" r="9.35"/><circle cx="921.1" cy="93.1" r="9.35"/><circle cx="913.7" cy="57.5" r="9.35"/><circle cx="923.5" cy="137.6" r="9.35"/><circle cx="921.1" cy="110.9" r="9.35"/><circle cx="913.7" cy="128.7" r="9.35"/><circle cx="906.2" cy="275.6" r="9.35"/><circle cx="914.5" cy="413.5" r="9.35"/><circle cx="912.9" cy="159.8" r="9.35"/><circle cx="917.6" cy="315.6" r="9.35"/><circle cx="924.5" cy="151.0" r="9.35"/><circle cx="912.5" cy="151.0" r="9.35"/><circle cx="916.5" cy="204.3" r="9.35"/><circle cx="913.3" cy="13.0" r="9.35"/><circle cx="917.9" cy="137.6" r="9.35"/><circle cx="921.1" cy="21.9" r="9.35"/><circle cx="904.6" cy="168.8" r="9.35"/><circle cx="920.7" cy="306.7" r="9.35"/><circle cx="913.7" cy="395.7" r="9.35"/><circle cx="908.6" cy="262.2" r="9.35"/><circle cx="906.5" cy="311.2" r="9.35"/><circle cx="924.0" cy="195.5" r="9.35"/><circle cx="915.1" cy="26.4" r="9.35"/><circle cx="916.5" cy="13.0" r="9.35"/><circle cx="917.6" cy="93.1" r="9.35"/><circle cx="906.2" cy="177.7" r="9.35"/><circle cx="921.1" cy="395.7" r="9.35"/><circle cx="924.5" cy="346.8" r="9.35"/><circle cx="914.5" cy="346.8" r="9.35"/><circle cx="915.1" cy="173.2" r="9.35"/><circle cx="905.4" cy="35.2" r="9.35"/><circle cx="913.7" cy="204.3" r="9.35"/><circle cx="917.2" cy="266.6" r="9.35"/><circle cx="911.9" cy="155.4" r="9.35"/><circle cx="916.5" cy="297.8" r="9.35"/><circle cx="920.5" cy="293.4" r="9.35"/><circle cx="904.6" cy="311.2" r="9.35"/><circle cx="905.4" cy="351.2" r="9.35"/><circle cx="920.7" cy="257.8" r="9.35"/><circle cx="924.0" cy="119.8" r="9.35"/><circle cx="905.4" cy="17.4" r="9.35"/><circle cx="924.5" cy="386.8" r="9.35"/><circle cx="924.0" cy="244.4" r="9.35"/><circle cx="915.1" cy="21.9" r="9.35"/><circle cx="908.9" cy="208.8" r="9.35"/><circle cx="924.5" cy="128.7" r="9.35"/><circle cx="914.5" cy="21.9" r="9.35"/><circle cx="922.1" cy="173.2" r="9.35"/><circle cx="907.2" cy="164.3" r="9.35"/><circle cx="914.5" cy="328.9" r="9.35"/><circle cx="905.4" cy="204.3" r="9.35"/><circle cx="907.2" cy="240.0" r="9.35"/><circle cx="919.2" cy="235.5" r="9.35"/><circle cx="909.2" cy="182.1" r="9.35"/><circle cx="913.7" cy="106.5" r="9.35"/><circle cx="915.8" cy="13.0" r="9.35"/><circle cx="924.8" cy="124.2" r="9.35"/><circle cx="908.9" cy="369.0" r="9.35"/><circle cx="923.5" cy="106.5" r="9.35"/><circle cx="917.6" cy="266.6" r="9.35"/><circle cx="911.9" cy="142.1" r="9.35"/><circle cx="916.5" cy="177.7" r="9.35"/><circle cx="917.6" cy="115.4" r="9.35"/><circle cx="908.1" cy="311.2" r="9.35"/><circle cx="925.0" cy="48.6" r="9.35"/><circle cx="923.5" cy="400.2" r="9.35"/><circle cx="906.2" cy="302.2" r="9.35"/><circle cx="913.7" cy="168.8" r="9.35"/><circle cx="906.5" cy="199.9" r="9.35"/><circle cx="906.2" cy="382.4" r="9.35"/><circle cx="919.2" cy="195.5" r="9.35"/><circle cx="917.6" cy="262.2" r="9.35"/><circle cx="915.1" cy="324.5" r="9.35"/><circle cx="912.5" cy="119.8" r="9.35"/><circle cx="922.8" cy="386.8" r="9.35"/><circle cx="907.2" cy="93.1" r="9.35"/><circle cx="917.6" cy="110.9" r="9.35"/><circle cx="908.6" cy="244.4" r="9.35"/><circle cx="909.2" cy="93.1" r="9.35"/><circle cx="912.9" cy="155.4" r="9.35"/><circle cx="925.0" cy="280.0" r="9.35"/><circle cx="916.0" cy="119.8" r="9.35"/><circle cx="924.0" cy="244.4" r="9.35"/><circle cx="912.9" cy="377.9" r="9.35"/><circle cx="923.5" cy="382.4" r="9.35"/><circle cx="906.2" cy="191.0" r="9.35"/><circle cx="915.1" cy="142.1" r="9.35"/><circle cx="912.2" cy="106.5" r="9.35"/><circle cx="906.2" cy="324.5" r="9.35"/><circle cx="917.9" cy="382.4" r="9.35"/><circle cx="912.2" cy="128.7" r="9.35"/><circle cx="919.2" cy="297.8" r="9.35"/><circle cx="907.7" cy="266.6" r="9.35"/><circle cx="920.5" cy="266.6" r="9.35"/><circle cx="907.2" cy="133.2" r="9.35"/><circle cx="916.5" cy="48.6" r="9.35"/><circle cx="924.5" cy="53.1" r="9.35"/><circle cx="914.3" cy="97.5" r="9.35"/><circle cx="912.2" cy="284.4" r="9.35"/><circle cx="913.7" cy="39.7" r="9.35"/><circle cx="923.5" cy="311.2" r="9.35"/><circle cx="936.5" cy="266.6" r="9.35"/><circle cx="936.5" cy="253.3" r="9.35"/><circle cx="937.8" cy="333.4" r="9.35"/><circle cx="943.8" cy="102.0" r="9.35"/><circle cx="943.0" cy="84.2" r="9.35"/><circle cx="943.8" cy="342.3" r="9.35"/><circle cx="950.2" cy="66.4" r="9.35"/><circle cx="934.7" cy="404.6" r="9.35"/><circle cx="942.2" cy="199.9" r="9.35"/><circle cx="943.8" cy="26.4" r="9.35"/><circle cx="946.1" cy="97.5" r="9.35"/><circle cx="928.1" cy="195.5" r="9.35"/><circle cx="950.9" cy="382.4" r="9.35"/><circle cx="928.5" cy="124.2" r="9.35"/><circle cx="954.3" cy="382.4" r="9.35"/><circle cx="945.9" cy="355.7" r="9.35"/><circle cx="949.4" cy="155.4" r="9.35"/><circle cx="933.4" cy="324.5" r="9.35"/><circle cx="950.6" cy="208.8" r="9.35"/><circle cx="950.6" cy="253.3" r="9.35"/><circle cx="935.6" cy="26.4" r="9.35"/><circle cx="946.8" cy="217.7" r="9.35"/><circle cx="942.8" cy="128.7" r="9.35"/><circle cx="948.1" cy="53.1" r="9.35"/><circle cx="938.5" cy="88.7" r="9.35"/><circle cx="946.8" cy="75.3" r="9.35"/><circle cx="951.7" cy="84.2" r="9.35"/><circle cx="954.3" cy="30.8" r="9.35"/><circle cx="945.9" cy="208.8" r="9.35"/><circle cx="948.1" cy="97.5" r="9.35"/><circle cx="939.2" cy="244.4" r="9.35"/><circle cx="930.4" cy="119.8" r="9.35"/><circle cx="956.6" cy="262.2" r="9.35"/><circle cx="930.7" cy="328.9" r="9.35"/><circle cx="939.2" cy="293.4" r="9.35"/><circle cx="956.4" cy="391.2" r="9.35"/><circle cx="935.0" cy="369.0" r="9.35"/><circle cx="946.1" cy="106.5" r="9.35"/><circle cx="931.7" cy="391.2" r="9.35"/><circle cx="940.4" cy="182.1" r="9.35"/><circle cx="954.6" cy="400.2" r="9.35"/><circle cx="929.1" cy="337.9" r="9.35"/><circle cx="933.0" cy="315.6" r="9.35"/><circle cx="948.6" cy="177.7" r="9.35"/><circle cx="933.0" cy="337.9" r="9.35"/><circle cx="934.7" cy="342.3" r="9.35"/><circle cx="950.2" cy="284.4" r="9.35"/><circle cx="943.0" cy="93.1" r="9.35"/><circle cx="941.3" cy="306.7" r="9.35"/><circle cx="954.3" cy="53.1" r="9.35"/><circle cx="935.6" cy="195.5" r="9.35"/><circle cx="956.1" cy="222.2" r="9.35"/><circle cx="933.0" cy="395.7" r="9.35"/><circle cx="955.5" cy="97.5" r="9.35"/><circle cx="937.8" cy="204.3" r="9.35"/><circle cx="942.2" cy="302.2" r="9.35"/><circle cx="956.6" cy="151.0" r="9.35"/><circle cx="933.4" cy="413.5" r="9.35"/><circle cx="941.3" cy="262.2" r="9.35"/><circle cx="950.9" cy="133.2" r="9.35"/><circle cx="944.9" cy="351.2" r="9.35"/><circle cx="930.4" cy="280.0" r="9.35"/><circle cx="933.7" cy="70.8" r="9.35"/><circle cx="942.2" cy="159.8" r="9.35"/><circle cx="956.6" cy="302.2" r="9.35"/><circle cx="942.8" cy="351.2" r="9.35"/><circle cx="950.6" cy="413.5" r="9.35"/><circle cx="952.4" cy="79.8" r="9.35"/><circle cx="952.4" cy="382.4" r="9.35"/><circle cx="934.2" cy="128.7" r="9.35"/><circle cx="929.1" cy="222.2" r="9.35"/><circle cx="940.4" cy="30.8" r="9.35"/><circle cx="944.6" cy="75.3" r="9.35"/><circle cx="935.0" cy="102.0" r="9.35"/><circle cx="938.5" cy="48.6" r="9.35"/><circle cx="929.1" cy="88.7" r="9.35"/><circle cx="932.8" cy="199.9" r="9.35"/><circle cx="942.8" cy="351.2" r="9.35"/><circle cx="952.4" cy="284.4" r="9.35"/><circle cx="935.0" cy="386.8" r="9.35"/><circle cx="935.0" cy="231.1" r="9.35"/><circle cx="948.6" cy="266.6" r="9.35"/><circle cx="947.7" cy="373.4" r="9.35"/><circle cx="937.8" cy="231.1" r="9.35"/><circle cx="956.1" cy="88.7" r="9.35"/><circle cx="946.1" cy="409.1" r="9.35"/><circle cx="937.5" cy="133.2" r="9.35"/><circle cx="933.4" cy="191.0" r="9.35"/><circle cx="940.4" cy="413.5" r="9.35"/><circle cx="956.6" cy="97.5" r="9.35"/><circle cx="932.8" cy="168.8" r="9.35"/><circle cx="934.7" cy="262.2" r="9.35"/><circle cx="943.0" cy="288.9" r="9.35"/><circle cx="935.6" cy="257.8" r="9.35"/><circle cx="946.8" cy="306.7" r="9.35"/><circle cx="932.8" cy="124.2" r="9.35"/><circle cx="935.6" cy="35.2" r="9.35"/><circle cx="943.8" cy="128.7" r="9.35"/><circle cx="935.6" cy="88.7" r="9.35"/><circle cx="929.1" cy="355.7" r="9.35"/><circle cx="929.1" cy="146.5" r="9.35"/><circle cx="948.1" cy="342.3" r="9.35"/><circle cx="938.5" cy="84.2" r="9.35"/><circle cx="944.9" cy="377.9" r="9.35"/><circle cx="933.0" cy="351.2" r="9.35"/><circle cx="929.6" cy="248.9" r="9.35"/><circle cx="928.1" cy="48.6" r="9.35"/><circle cx="939.2" cy="213.2" r="9.35"/><circle cx="946.1" cy="110.9" r="9.35"/><circle cx="952.4" cy="257.8" r="9.35"/><circle cx="935.6" cy="248.9" r="9.35"/><circle cx="926.1" cy="253.3" r="9.35"/><circle cx="948.1" cy="17.4" r="9.35"/><circle cx="950.9" cy="151.0" r="9.35"/><circle cx="945.4" cy="409.1" r="9.35"/><circle cx="935.6" cy="275.6" r="9.35"/><circle cx="946.1" cy="373.4" r="9.35"/><circle cx="937.5" cy="213.2" r="9.35"/><circle cx="950.9" cy="88.7" r="9.35"/><circle cx="945.4" cy="351.2" r="9.35"/><circle cx="950.6" cy="57.5" r="9.35"/><circle cx="943.0" cy="271.1" r="9.35"/><circle cx="941.6" cy="355.7" r="9.35"/><circle cx="948.6" cy="17.4" r="9.35"/><circle cx="942.2" cy="128.7" r="9.35"/><circle cx="952.7" cy="333.4" r="9.35"/><circle cx="955.5" cy="164.3" r="9.35"/><circle cx="932.8" cy="382.4" r="9.35"/><circle cx="933.4" cy="186.6" r="9.35"/><circle cx="948.1" cy="280.0" r="9.35"/><circle cx="954.9" cy="266.6" r="9.35"/><circle cx="940.4" cy="364.6" r="9.35"/><circle cx="956.4" cy="360.1" r="9.35"/><circle cx="954.6" cy="199.9" r="9.35"/><circle cx="943.8" cy="191.0" r="9.35"/><circle cx="934.2" cy="53.1" r="9.35"/><circle cx="956.6" cy="93.1" r="9.35"/><circle cx="944.9" cy="364.6" r="9.35"/><circle cx="952.4" cy="293.4" r="9.35"/><circle cx="954.3" cy="315.6" r="9.35"/><circle cx="943.8" cy="84.2" r="9.35"/><circle cx="931.7" cy="195.5" r="9.35"/><circle cx="928.5" cy="404.6" r="9.35"/><circle cx="931.7" cy="17.4" r="9.35"/><circle cx="955.5" cy="151.0" r="9.35"/><circle cx="935.0" cy="146.5" r="9.35"/><circle cx="949.4" cy="257.8" r="9.35"/><circle cx="944.9" cy="97.5" r="9.35"/><circle cx="926.1" cy="333.4" r="9.35"/><circle cx="940.4" cy="355.7" r="9.35"/><circle cx="937.8" cy="186.6" r="9.35"/><circle cx="931.7" cy="208.8" r="9.35"/><circle cx="934.2" cy="191.0" r="9.35"/><circle cx="935.6" cy="159.8" r="9.35"/><circle cx="927.3" cy="146.5" r="9.35"/><circle cx="930.4" cy="30.8" r="9.35"/><circle cx="944.9" cy="226.6" r="9.35"/><circle cx="938.5" cy="164.3" r="9.35"/><circle cx="947.7" cy="115.4" r="9.35"/><circle cx="950.2" cy="222.2" r="9.35"/><circle cx="956.6" cy="84.2" r="9.35"/><circle cx="953.0" cy="248.9" r="9.35"/><circle cx="939.5" cy="191.0" r="9.35"/><circle cx="954.6" cy="204.3" r="9.35"/><circle cx="942.8" cy="240.0" r="9.35"/><circle cx="954.6" cy="280.0" r="9.35"/><circle cx="927.6" cy="128.7" r="9.35"/><circle cx="954.3" cy="124.2" r="9.35"/><circle cx="944.9" cy="115.4" r="9.35"/><circle cx="935.0" cy="177.7" r="9.35"/><circle cx="928.1" cy="364.6" r="9.35"/><circle cx="939.5" cy="213.2" r="9.35"/><circle cx="937.8" cy="395.7" r="9.35"/><circle cx="948.1" cy="204.3" r="9.35"/><circle cx="933.4" cy="288.9" r="9.35"/><circle cx="937.8" cy="315.6" r="9.35"/><circle cx="928.1" cy="53.1" r="9.35"/><circle cx="956.1" cy="151.0" r="9.35"/><circle cx="953.7" cy="244.4" r="9.35"/><circle cx="951.7" cy="320.1" r="9.35"/><circle cx="949.4" cy="191.0" r="9.35"/><circle cx="954.6" cy="377.9" r="9.35"/><circle cx="950.9" cy="364.6" r="9.35"/><circle cx="942.8" cy="35.2" r="9.35"/><circle cx="926.1" cy="311.2" r="9.35"/><circle cx="935.0" cy="280.0" r="9.35"/><circle cx="928.1" cy="62.0" r="9.35"/><circle cx="951.7" cy="253.3" r="9.35"/><circle cx="936.5" cy="182.1" r="9.35"/><circle cx="927.6" cy="404.6" r="9.35"/><circle cx="954.3" cy="284.4" r="9.35"/><circle cx="941.6" cy="39.7" r="9.35"/><circle cx="956.4" cy="226.6" r="9.35"/><circle cx="932.8" cy="293.4" r="9.35"/><circle cx="954.9" cy="57.5" r="9.35"/><circle cx="931.7" cy="84.2" r="9.35"/><circle cx="936.5" cy="226.6" r="9.35"/><circle cx="930.7" cy="66.4" r="9.35"/><circle cx="956.6" cy="328.9" r="9.35"/><circle cx="945.9" cy="333.4" r="9.35"/><circle cx="953.7" cy="395.7" r="9.35"/><circle cx="929.1" cy="128.7" r="9.35"/><circle cx="935.3" cy="57.5" r="9.35"/><circle cx="953.7" cy="133.2" r="9.35"/><circle cx="930.0" cy="137.6" r="9.35"/><circle cx="955.5" cy="235.5" r="9.35"/><circle cx="928.5" cy="320.1" r="9.35"/><circle cx="935.0" cy="133.2" r="9.35"/><circle cx="931.7" cy="337.9" r="9.35"/><circle cx="933.4" cy="151.0" r="9.35"/><circle cx="950.9" cy="262.2" r="9.35"/><circle cx="946.8" cy="66.4" r="9.35"/><circle cx="944.6" cy="320.1" r="9.35"/><circle cx="935.0" cy="44.2" r="9.35"/><circle cx="946.8" cy="297.8" r="9.35"/><circle cx="945.9" cy="377.9" r="9.35"/><circle cx="956.4" cy="240.0" r="9.35"/><circle cx="942.8" cy="204.3" r="9.35"/><circle cx="927.6" cy="177.7" r="9.35"/><circle cx="934.7" cy="311.2" r="9.35"/><circle cx="951.7" cy="382.4" r="9.35"/><circle cx="934.7" cy="115.4" r="9.35"/><circle cx="933.7" cy="297.8" r="9.35"/><circle cx="943.0" cy="337.9" r="9.35"/><circle cx="954.3" cy="17.4" r="9.35"/><circle cx="927.3" cy="231.1" r="9.35"/><circle cx="950.2" cy="257.8" r="9.35"/><circle cx="954.9" cy="217.7" r="9.35"/><circle cx="931.7" cy="195.5" r="9.35"/><circle cx="946.1" cy="266.6" r="9.35"/><circle cx="946.8" cy="106.5" r="9.35"/><circle cx="942.2" cy="213.2" r="9.35"/><circle cx="952.7" cy="142.1" r="9.35"/><circle cx="942.2" cy="35.2" r="9.35"/><circle cx="931.7" cy="106.5" r="9.35"/><circle cx="930.7" cy="173.2" r="9.35"/><circle cx="933.4" cy="240.0" r="9.35"/><circle cx="950.6" cy="106.5" r="9.35"/><circle cx="950.9" cy="315.6" r="9.35"/><circle cx="941.6" cy="320.1" r="9.35"/><circle cx="944.6" cy="217.7" r="9.35"/><circle cx="927.3" cy="177.7" r="9.35"/><circle cx="948.6" cy="186.6" r="9.35"/><circle cx="953.7" cy="337.9" r="9.35"/><circle cx="930.4" cy="409.1" r="9.35"/><circle cx="941.6" cy="240.0" r="9.35"/><circle cx="939.5" cy="306.7" r="9.35"/><circle cx="951.7" cy="386.8" r="9.35"/><circle cx="954.6" cy="186.6" r="9.35"/><circle cx="943.0" cy="102.0" r="9.35"/><circle cx="933.4" cy="355.7" r="9.35"/><circle cx="935.0" cy="400.2" r="9.35"/><circle cx="935.3" cy="168.8" r="9.35"/><circle cx="942.8" cy="302.2" r="9.35"/><circle cx="944.6" cy="377.9" r="9.35"/><circle cx="952.4" cy="342.3" r="9.35"/><circle cx="933.7" cy="351.2" r="9.35"/><circle cx="947.7" cy="84.2" r="9.35"/><circle cx="950.9" cy="391.2" r="9.35"/><circle cx="938.5" cy="266.6" r="9.35"/><circle cx="933.0" cy="26.4" r="9.35"/><circle cx="927.6" cy="222.2" r="9.35"/><circle cx="950.2" cy="17.4" r="9.35"/><circle cx="930.4" cy="235.5" r="9.35"/><circle cx="949.4" cy="400.2" r="9.35"/><circle cx="933.4" cy="62.0" r="9.35"/><circle cx="930.0" cy="257.8" r="9.35"/><circle cx="935.0" cy="244.4" r="9.35"/><circle cx="928.5" cy="400.2" r="9.35"/><circle cx="956.6" cy="110.9" r="9.35"/><circle cx="949.4" cy="320.1" r="9.35"/><circle cx="933.7" cy="195.5" r="9.35"/><circle cx="933.4" cy="231.1" r="9.35"/><circle cx="954.9" cy="266.6" r="9.35"/><circle cx="935.6" cy="17.4" r="9.35"/><circle cx="945.4" cy="400.2" r="9.35"/><circle cx="938.5" cy="155.4" r="9.35"/><circle cx="928.1" cy="275.6" r="9.35"/><circle cx="948.1" cy="70.8" r="9.35"/><circle cx="944.6" cy="62.0" r="9.35"/><circle cx="940.4" cy="257.8" r="9.35"/><circle cx="952.7" cy="262.2" r="9.35"/><circle cx="950.6" cy="324.5" r="9.35"/><circle cx="936.5" cy="337.9" r="9.35"/><circle cx="943.0" cy="346.8" r="9.35"/><circle cx="932.8" cy="324.5" r="9.35"/><circle cx="940.4" cy="284.4" r="9.35"/><circle cx="939.5" cy="13.0" r="9.35"/><circle cx="947.7" cy="75.3" r="9.35"/><circle cx="932.8" cy="257.8" r="9.35"/><circle cx="928.1" cy="137.6" r="9.35"/><circle cx="936.5" cy="302.2" r="9.35"/><circle cx="926.1" cy="337.9" r="9.35"/><circle cx="934.2" cy="257.8" r="9.35"/><circle cx="954.9" cy="128.7" r="9.35"/><circle cx="934.2" cy="266.6" r="9.35"/><circle cx="930.4" cy="39.7" r="9.35"/><circle cx="936.5" cy="110.9" r="9.35"/><circle cx="948.6" cy="53.1" r="9.35"/><circle cx="926.1" cy="280.0" r="9.35"/><circle cx="963.8" cy="382.4" r="9.35"/><circle cx="971.0" cy="280.0" r="9.35"/><circle cx="969.4" cy="208.8" r="9.35"/><circle cx="957.9" cy="257.8" r="9.35"/><circle cx="961.2" cy="400.2" r="9.35"/><circle cx="960.0" cy="177.7" r="9.35"/><circle cx="957.1" cy="284.4" r="9.35"/><circle cx="964.3" cy="199.9" r="9.35"/><circle cx="959.3" cy="133.2" r="9.35"/><circle cx="961.8" cy="128.7" r="9.35"/><circle cx="967.1" cy="355.7" r="9.35"/><circle cx="960.6" cy="297.8" r="9.35"/><circle cx="968.2" cy="253.3" r="9.35"/><circle cx="963.8" cy="70.8" r="9.35"/><circle cx="961.2" cy="293.4" r="9.35"/><circle cx="963.4" cy="324.5" r="9.35"/><circle cx="957.9" cy="404.6" r="9.35"/><circle cx="966.8" cy="191.0" r="9.35"/><circle cx="969.9" cy="21.9" r="9.35"/><circle cx="962.3" cy="146.5" r="9.35"/><circle cx="971.4" cy="324.5" r="9.35"/><circle cx="967.5" cy="151.0" r="9.35"/><circle cx="971.9" cy="70.8" r="9.35"/><circle cx="961.2" cy="164.3" r="9.35"/><circle cx="958.6" cy="244.4" r="9.35"/><circle cx="963.8" cy="391.2" r="9.35"/><circle cx="963.8" cy="280.0" r="9.35"/><circle cx="965.2" cy="297.8" r="9.35"/><circle cx="960.0" cy="253.3" r="9.35"/><circle cx="964.8" cy="346.8" r="9.35"/><circle cx="967.1" cy="315.6" r="9.35"/><circle cx="958.6" cy="275.6" r="9.35"/><circle cx="964.3" cy="351.2" r="9.35"/><circle cx="966.4" cy="137.6" r="9.35"/><circle cx="966.0" cy="137.6" r="9.35"/><circle cx="957.1" cy="257.8" r="9.35"/><circle cx="963.4" cy="391.2" r="9.35"/><circle cx="963.8" cy="395.7" r="9.35"/><circle cx="965.2" cy="182.1" r="9.35"/><circle cx="964.8" cy="280.0" r="9.35"/><circle cx="961.8" cy="404.6" r="9.35"/><circle cx="963.4" cy="62.0" r="9.35"/><circle cx="966.0" cy="306.7" r="9.35"/><circle cx="967.5" cy="337.9" r="9.35"/><circle cx="964.8" cy="168.8" r="9.35"/><circle cx="971.9" cy="266.6" r="9.35"/><circle cx="966.4" cy="39.7" r="9.35"/><circle cx="969.4" cy="164.3" r="9.35"/><circle cx="966.8" cy="248.9" r="9.35"/><circle cx="964.3" cy="297.8" r="9.35"/><circle cx="969.9" cy="66.4" r="9.35"/><circle cx="963.8" cy="53.1" r="9.35"/><circle cx="957.1" cy="360.1" r="9.35"/><circle cx="965.2" cy="284.4" r="9.35"/><circle cx="963.4" cy="21.9" r="9.35"/><circle cx="960.0" cy="333.4" r="9.35"/><circle cx="961.2" cy="142.1" r="9.35"/><circle cx="961.2" cy="413.5" r="9.35"/><circle cx="966.0" cy="257.8" r="9.35"/><circle cx="961.2" cy="217.7" r="9.35"/><circle cx="967.1" cy="195.5" r="9.35"/><circle cx="966.8" cy="191.0" r="9.35"/><circle cx="969.9" cy="26.4" r="9.35"/><circle cx="962.9" cy="271.1" r="9.35"/><circle cx="971.0" cy="284.4" r="9.35"/><circle cx="968.2" cy="137.6" r="9.35"/><circle cx="967.5" cy="26.4" r="9.35"/><circle cx="969.9" cy="351.2" r="9.35"/><circle cx="966.8" cy="217.7" r="9.35"/><circle cx="966.0" cy="262.2" r="9.35"/><circle cx="962.3" cy="119.8" r="9.35"/><circle cx="965.6" cy="315.6" r="9.35"/><circle cx="961.8" cy="280.0" r="9.35"/><circle cx="960.0" cy="208.8" r="9.35"/><circle cx="959.3" cy="391.2" r="9.35"/><circle cx="957.9" cy="373.4" r="9.35"/><circle cx="968.2" cy="369.0" r="9.35"/><circle cx="964.8" cy="110.9" r="9.35"/><circle cx="965.2" cy="346.8" r="9.35"/><circle cx="970.5" cy="70.8" r="9.35"/><circle cx="957.9" cy="306.7" r="9.35"/><circle cx="965.2" cy="102.0" r="9.35"/><circle cx="963.8" cy="128.7" r="9.35"/><circle cx="961.8" cy="128.7" r="9.35"/><circle cx="962.9" cy="275.6" r="9.35"/><circle cx="968.8" cy="79.8" r="9.35"/><circle cx="969.9" cy="191.0" r="9.35"/><circle cx="964.3" cy="133.2" r="9.35"/><circle cx="966.8" cy="84.2" r="9.35"/><circle cx="969.4" cy="364.6" r="9.35"/><circle cx="963.4" cy="146.5" r="9.35"/><circle cx="961.2" cy="337.9" r="9.35"/><circle cx="957.1" cy="182.1" r="9.35"/><circle cx="971.9" cy="26.4" r="9.35"/><circle cx="959.3" cy="142.1" r="9.35"/><circle cx="964.3" cy="164.3" r="9.35"/><circle cx="963.8" cy="44.2" r="9.35"/><circle cx="972.3" cy="395.7" r="9.35"/><circle cx="968.2" cy="369.0" r="9.35"/><circle cx="957.9" cy="293.4" r="9.35"/><circle cx="968.2" cy="13.0" r="9.35"/><circle cx="959.3" cy="280.0" r="9.35"/><circle cx="957.1" cy="199.9" r="9.35"/><circle cx="965.2" cy="262.2" r="9.35"/><circle cx="962.3" cy="97.5" r="9.35"/><circle cx="970.5" cy="297.8" r="9.35"/><circle cx="963.8" cy="168.8" r="9.35"/><circle cx="968.8" cy="21.9" r="9.35"/><circle cx="963.8" cy="137.6" r="9.35"/><circle cx="966.0" cy="97.5" r="9.35"/><circle cx="960.0" cy="342.3" r="9.35"/><circle cx="958.6" cy="44.2" r="9.35"/><circle cx="961.8" cy="222.2" r="9.35"/><circle cx="959.3" cy="280.0" r="9.35"/><circle cx="957.1" cy="191.0" r="9.35"/><circle cx="960.0" cy="164.3" r="9.35"/><circle cx="961.8" cy="320.1" r="9.35"/><circle cx="965.2" cy="266.6" r="9.35"/><circle cx="961.8" cy="395.7" r="9.35"/><circle cx="957.9" cy="62.0" r="9.35"/><circle cx="962.3" cy="382.4" r="9.35"/><circle cx="960.6" cy="222.2" r="9.35"/><circle cx="972.3" cy="328.9" r="9.35"/><circle cx="970.5" cy="222.2" r="9.35"/><circle cx="964.3" cy="97.5" r="9.35"/><circle cx="963.8" cy="391.2" r="9.35"/><circle cx="966.0" cy="151.0" r="9.35"/><circle cx="966.8" cy="297.8" r="9.35"/><circle cx="971.9" cy="70.8" r="9.35"/><circle cx="972.3" cy="240.0" r="9.35"/><circle cx="969.9" cy="128.7" r="9.35"/><circle cx="960.0" cy="404.6" r="9.35"/><circle cx="960.0" cy="369.0" r="9.35"/><circle cx="958.6" cy="266.6" r="9.35"/><circle cx="968.8" cy="284.4" r="9.35"/><circle cx="965.6" cy="413.5" r="9.35"/><circle cx="961.2" cy="30.8" r="9.35"/><circle cx="957.1" cy="204.3" r="9.35"/><circle cx="969.9" cy="102.0" r="9.35"/><circle cx="968.2" cy="253.3" r="9.35"/><circle cx="969.4" cy="88.7" r="9.35"/><circle cx="968.8" cy="17.4" r="9.35"/><circle cx="958.6" cy="35.2" r="9.35"/><circle cx="963.8" cy="133.2" r="9.35"/><circle cx="961.8" cy="53.1" r="9.35"/><circle cx="957.1" cy="186.6" r="9.35"/><circle cx="961.2" cy="257.8" r="9.35"/><circle cx="963.4" cy="151.0" r="9.35"/><circle cx="969.9" cy="266.6" r="9.35"/><circle cx="966.8" cy="271.1" r="9.35"/><circle cx="962.3" cy="57.5" r="9.35"/><circle cx="962.9" cy="377.9" r="9.35"/><circle cx="962.9" cy="119.8" r="9.35"/><circle cx="961.2" cy="119.8" r="9.35"/><circle cx="966.0" cy="142.1" r="9.35"/><circle cx="973.8" cy="373.4" r="9.35"/><circle cx="973.4" cy="271.1" r="9.35"/><circle cx="975.3" cy="413.5" r="9.35"/><circle cx="975.8" cy="253.3" r="9.35"/><circle cx="974.7" cy="199.9" r="9.35"/><circle cx="977.7" cy="328.9" r="9.35"/><circle cx="977.5" cy="280.0" r="9.35"/><circle cx="976.9" cy="373.4" r="9.35"/><circle cx="977.8" cy="244.4" r="9.35"/><circle cx="977.8" cy="324.5" r="9.35"/><circle cx="975.3" cy="133.2" r="9.35"/><circle cx="973.8" cy="302.2" r="9.35"/><circle cx="976.5" cy="35.2" r="9.35"/><circle cx="974.7" cy="337.9" r="9.35"/><circle cx="975.0" cy="17.4" r="9.35"/><circle cx="973.4" cy="159.8" r="9.35"/><circle cx="975.0" cy="159.8" r="9.35"/><circle cx="974.1" cy="168.8" r="9.35"/><circle cx="977.5" cy="75.3" r="9.35"/><circle cx="976.3" cy="213.2" r="9.35"/><circle cx="976.0" cy="369.0" r="9.35"/><circle cx="977.3" cy="142.1" r="9.35"/><circle cx="975.5" cy="151.0" r="9.35"/><circle cx="975.3" cy="257.8" r="9.35"/><circle cx="974.1" cy="177.7" r="9.35"/><circle cx="976.0" cy="208.8" r="9.35"/><circle cx="972.7" cy="164.3" r="9.35"/><circle cx="975.3" cy="177.7" r="9.35"/></g><text x="349.6" y="26.5" font-size="38.5" text-anchor="end">00</text><path d="M299.59 -0.40H296.35C295.78 2.80 293.08 4.80 289.19 5.00V7.60H296.08V26.50H299.59Z" fill="#000"/><text x="349.6" y="115.5" font-size="38.5" text-anchor="end">80</text><text x="349.6" y="204.5" font-size="38.5" text-anchor="end">60</text><text x="349.6" y="293.5" font-size="38.5" text-anchor="end">40</text><text x="349.6" y="382.5" font-size="38.5" text-anchor="end">20</text><text x="367.2" y="465" font-size="38.5" text-anchor="middle">0</text><text x="677.7" y="465" font-size="38.5" text-anchor="middle">0.5</text><path d="M991.70 437.80H988.47C987.89 441.00 985.20 443.00 981.31 443.20V445.80H988.20V464.70H991.70Z" fill="#000"/><text x="676.6" y="511.2" font-size="38.5" text-anchor="middle">Reliability</text><text transform="translate(258.7 213.4) rotate(-90)" x="0" y="0" font-size="38.85" text-anchor="middle">Max Productivity</text></svg></body></html>
